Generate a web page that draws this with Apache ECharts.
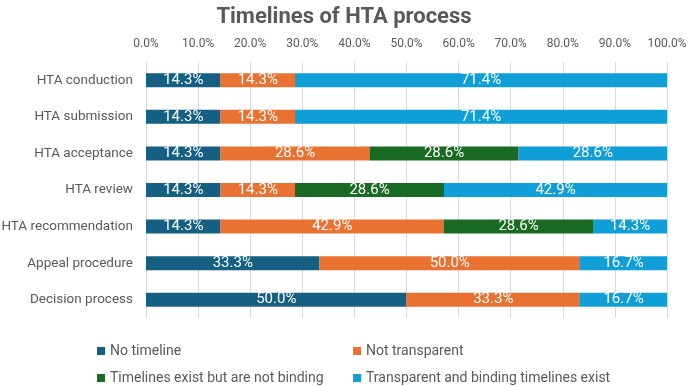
<!DOCTYPE html>
<html>
<head>
<meta charset="utf-8">
<script src="https://cdn.jsdelivr.net/npm/echarts@6/dist/echarts.min.js"></script>
<style>
  html, body { margin: 0; padding: 0; background: #fff; }
  #chart { width: 688px; height: 386px; }
</style>
</head>
<body>
<div id="chart"></div>
<script>
const categories = ['HTA conduction', 'HTA submission', 'HTA acceptance', 'HTA review',
  'HTA recommendation', 'Appeal procedure', 'Decision process']
const noTimeline = [14.3, 14.3, 14.3, 14.3, 14.3, 33.3, 50.0]
const notTransparent = [14.3, 14.3, 28.6, 14.3, 42.9, 50.0, 33.3]
const notBinding = [0, 0, 28.6, 28.6, 28.6, 0, 0]
const transparent = [71.4, 71.4, 28.6, 42.9, 14.3, 16.7, 16.7]
const seriesNames = ['No timeline', 'Not transparent', 'Timelines exist but are not binding',
  'Transparent and binding timelines exist']

const font = "'Roboto', sans-serif"
const colors = ['#156082', '#E97132', '#196B24', '#0F9ED5']
const textGray = '#595959'

function makeSeries(name, data, i) {
  return {
    name: name,
    type: 'bar',
    stack: 'total',
    barWidth: 14,
    data: data,
    itemStyle: { color: colors[i] },
    label: {
      show: true,
      color: '#fff',
      fontSize: 15,
      fontFamily: font,
      formatter: (p) => p.value > 0 ? p.value.toFixed(1) + '%' : ''
    }
  }
}

// each legend entry placed on its own, 2 x 2
const legendPos = [[92, 339], [348, 339], [92, 366], [348, 366]]

const option = {
  animation: false,
  title: {
    text: 'Timelines of HTA process',
    left: 'center',
    top: 1,
    textStyle: { fontFamily: font, fontSize: 22, fontWeight: 'bold', color: textGray }
  },
  legend: seriesNames.map((n, i) => ({
    data: [n],
    left: legendPos[i][0],
    top: legendPos[i][1],
    itemWidth: 8,
    itemHeight: 8,
    icon: 'rect',
    textStyle: { fontFamily: font, fontSize: 14, color: textGray }
  })),
  grid: {
    left: 146,
    right: 21,
    top: 62,
    height: 256,
    containLabel: false,
    outerBoundsMode: 'none'
  },
  xAxis: {
    type: 'value',
    position: 'top',
    min: 0,
    max: 100,
    interval: 10,
    axisLine: { show: false },
    axisTick: { show: false },
    axisLabel: {
      color: textGray,
      fontFamily: font,
      fontSize: 12,
      margin: 12,
      formatter: (v) => v.toFixed(1) + '%'
    },
    splitLine: { lineStyle: { color: '#d9d9d9' } }
  },
  yAxis: {
    type: 'category',
    inverse: true,
    data: categories,
    axisLine: { show: false },
    axisTick: { show: false },
    axisLabel: { color: textGray, fontFamily: font, fontSize: 13.5, margin: 13 }
  },
  series: [
    makeSeries(seriesNames[0], noTimeline, 0),
    makeSeries(seriesNames[1], notTransparent, 1),
    makeSeries(seriesNames[2], notBinding, 2),
    makeSeries(seriesNames[3], transparent, 3)
  ]
}

const mychart = echarts.init(document.getElementById('chart'))
mychart.setOption(option)
</script>
</body>
</html>
